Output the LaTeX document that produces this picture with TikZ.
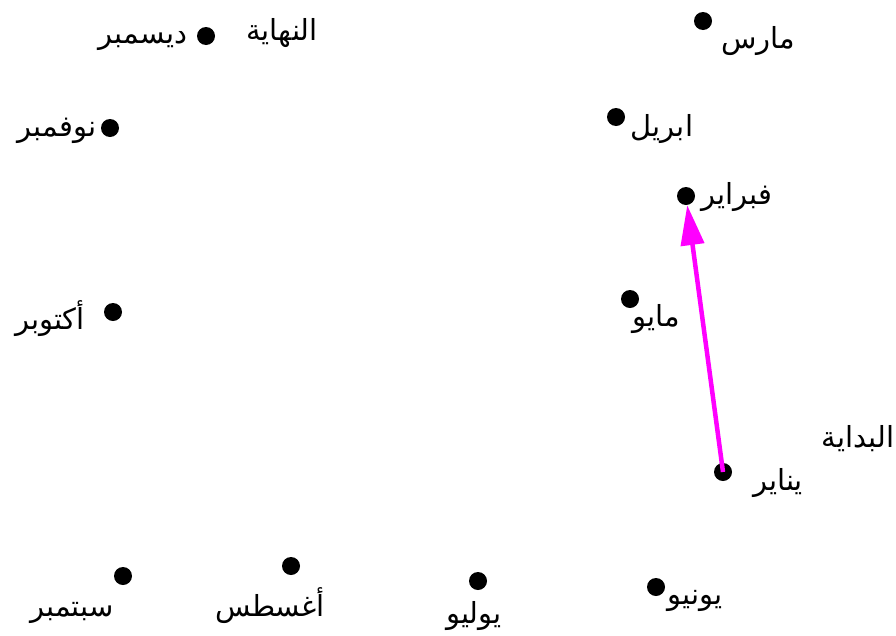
\documentclass[tikz,border=0pt]{standalone}
\usepackage{fontspec}
\usetikzlibrary{arrows.meta}
\TeXXeTstate=1
\newfontfamily\arabicfont[Script=Arabic]{DejaVu Sans}
\definecolor{arrowmag}{RGB}{255,0,255}
\tikzset{
  dot/.style={circle,fill=black,inner sep=0pt,minimum size=18pt},
  lbl/.style={font=\arabicfont\fontsize{29}{33}\selectfont,inner sep=0pt,anchor=center},
  conn/.style={draw=arrowmag,line width=4.5pt,-{Triangle[length=40pt,width=23pt]}}
}
\begin{document}
\begin{tikzpicture}[x=1pt,y=-1pt]
\useasboundingbox (0,0) rectangle (896,635);
% dots
\node[dot] (dec) at (206,36) {};
\node[dot] (mar) at (703,21) {};
\node[dot] (nov) at (110,128) {};
\node[dot] (apr) at (616,117) {};
\node[dot] (feb) at (686,196) {};
\node[dot] (oct) at (113,312) {};
\node[dot] (may) at (630,299) {};
\node[dot] (jan) at (723,472) {};
\node[dot] (sep) at (123,576) {};
\node[dot] (aug) at (291,566) {};
\node[dot] (jul) at (478,581) {};
\node[dot] (jun) at (656,587) {};
% labels
\node[lbl] (ldec) at (143,41) {\beginR ديسمبر\endR};
\node[lbl] (lend) at (282,33) {\beginR النهاية\endR};
\node[lbl] (lmar) at (758,41) {\beginR مارس\endR};
\node[lbl] (lnov) at (57,131) {\beginR نوفمبر\endR};
\node[lbl] (lapr) at (662,129) {\beginR ابريل\endR};
\node[lbl] (lfeb) at (737,197) {\beginR فبراير\endR};
\node[lbl] (loct) at (50,319) {\beginR أكتوبر\endR};
\node[lbl] (lmay) at (656,319) {\beginR مايو\endR};
\node[lbl] (lstart) at (858,439) {\beginR البداية\endR};
\node[lbl] (ljan) at (778,483) {\beginR يناير\endR};
\node[lbl] (lsep) at (72,613) {\beginR سبتمبر\endR};
\node[lbl] (laug) at (270,606) {\beginR أغسطس\endR};
\node[lbl] (ljul) at (474,616) {\beginR يوليو\endR};
\node[lbl] (ljun) at (695,601) {\beginR يونيو\endR};
% arrow
\draw[conn] (jan.center) -- (feb);
\end{tikzpicture}
\end{document}
